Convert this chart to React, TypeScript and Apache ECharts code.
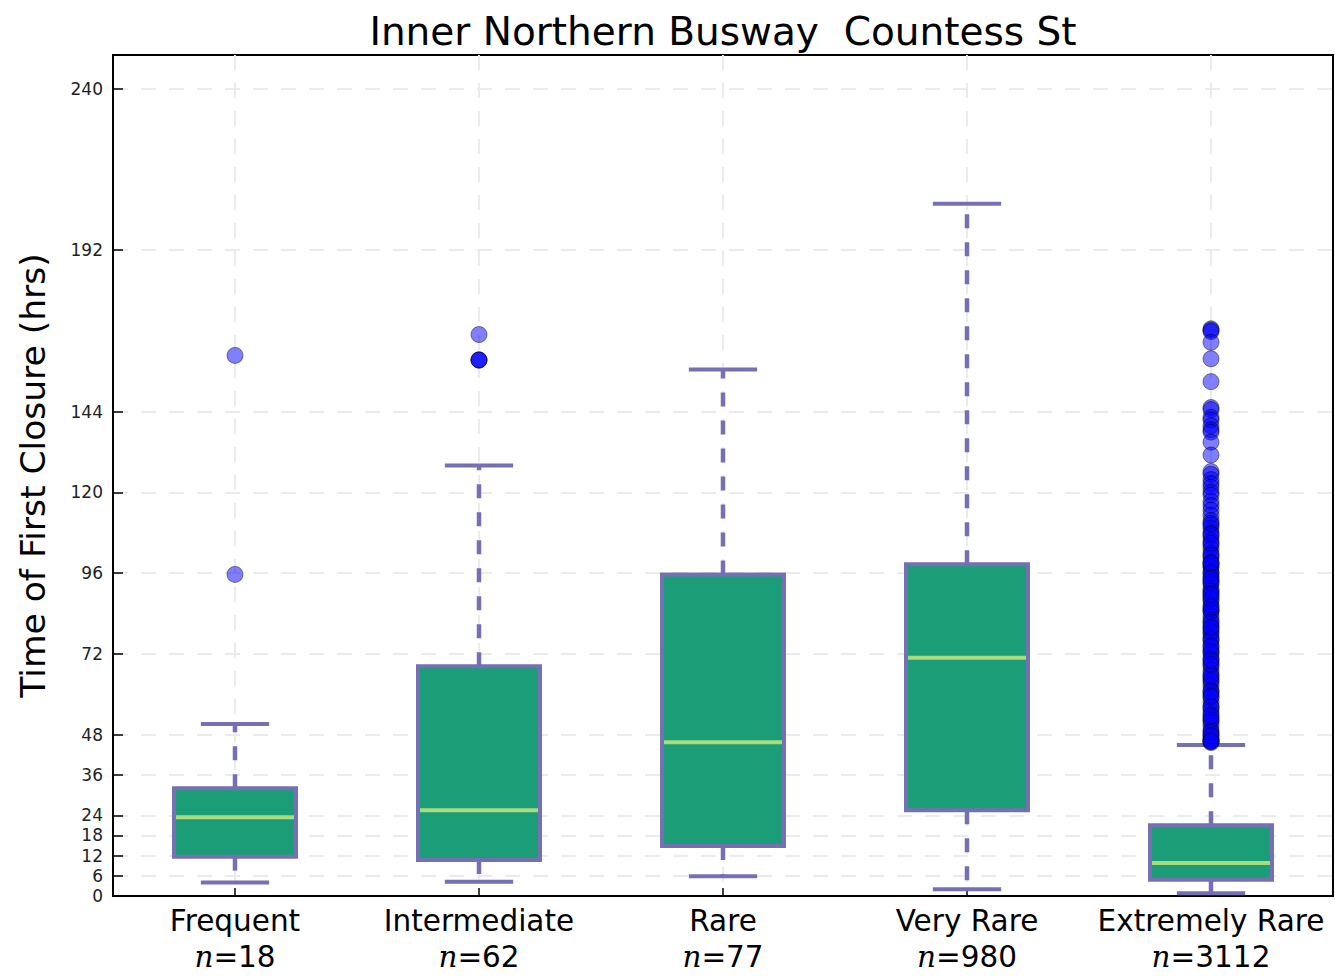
import React, { useEffect, useRef } from 'react';
import * as echarts from 'echarts';

const titleText = 'Inner Northern Busway  Countess St';
const yAxisTitle = 'Time of First Closure (hrs)';
const categories = ['Frequent', 'Intermediate', 'Rare', 'Very Rare', 'Extremely Rare'];
const counts = [18, 62, 77, 980, 3112];
const lowerWhisker = [4.0, 4.2, 5.9, 2.0, 0.8];
const q1 = [11.7, 10.7, 14.9, 25.5, 4.8];
const median = [23.4, 25.5, 45.7, 70.8, 9.8];
const q3 = [32.0, 68.3, 95.6, 98.6, 21.0];
const upperWhisker = [51.1, 128.0, 156.5, 205.8, 44.9];
const yTicks = [0, 6, 12, 18, 24, 36, 48, 72, 96, 120, 144, 192, 240];

const outliersFrequent = [95.6, 160.7];
const outliersIntermediate = [166.9, 159.3, 159.3, 159.4];
const outliersRare: number[] = [];
const outliersVeryRare: number[] = [];
const outliersExtremelyRare = [
  168.6, 168.2, 167.8, 164.6, 159.7, 152.9, 145.2, 144.6, 142.3, 141.5, 139.8, 138.6, 137.9,
  134.9, 131.1, 126.2, 125.4, 123.8, 122.6, 121.5, 120.1, 119.2, 117.3, 116.1, 114.7, 113.2,
  111.6, 110.3, 109.4, 108.1, 106.9, 105.6, 104.3, 103.2, 101.9, 100.7, 99.4, 98.2, 97.6, 96.3,
  95.1, 93.9, 92.8, 91.4, 90.2, 89.1, 87.8, 86.5, 85.3, 84.4, 83.1, 82.0, 80.7, 79.5, 78.1,
  77.0, 75.9, 74.6, 73.2, 72.1, 70.8, 69.7, 68.4, 67.2, 66.1, 64.9, 63.6, 62.5, 61.2, 60.1,
  58.9, 57.6, 56.4, 55.2, 54.1, 52.8, 51.7, 50.6, 49.3, 48.2, 47.1, 46.2, 45.6,
  110.8, 107.5, 104.9, 101.3, 98.7, 96.0, 93.2, 90.6, 88.3, 84.8, 81.4, 78.6, 76.3, 72.6,
  68.9, 64.2, 60.7, 56.1, 52.3, 48.7, 46.5, 45.9, 99.0, 94.4, 89.6, 85.9, 79.9, 74.1, 70.2,
  65.5, 59.4, 53.5, 47.6, 46.0,
];
const outliers = [outliersFrequent, outliersIntermediate, outliersRare, outliersVeryRare, outliersExtremelyRare];

const BOX_FILL = '#1b9e77';
const EDGE = '#7570b3';
const MEDIAN = '#a8dc7c';
const GRID = '#ebebeb';

export default function App() {
  const ref = useRef<HTMLDivElement>(null);
  useEffect(() => {
    const chart = echarts.init(ref.current!, null, { renderer: 'svg' });
    const boxData = categories.map((_, i) => [i, lowerWhisker[i], q1[i], median[i], q3[i], upperWhisker[i]]);
    const outlierData: number[][] = [];
    outliers.forEach((arr, i) => arr.forEach((v) => outlierData.push([i, v])));
    const catIdx = categories.map((_, i) => i);

    chart.setOption({
      animation: false,
      backgroundColor: '#ffffff',
      textStyle: { fontFamily: 'DejaVu Sans' },
      graphic: [
        {
          type: 'text',
          x: 723,
          y: 12,
          style: {
            text: titleText,
            fontFamily: 'DejaVu Sans',
            fontSize: 39,
            fill: '#000',
            align: 'center',
            verticalAlign: 'top',
          },
        },
      ],
      grid: {
        left: 113,
        right: 2,
        top: 55,
        bottom: 81,
        show: true,
        borderColor: '#000',
        borderWidth: 2,
        backgroundColor: 'transparent',
      },
      xAxis: {
        type: 'value',
        min: -0.5,
        max: 4.5,
        axisLine: { show: true, onZero: false, lineStyle: { color: '#000', width: 2 } },
        axisTick: { show: true, inside: true, length: 8, customValues: catIdx, lineStyle: { color: '#000', width: 1.5 } },
        axisLabel: {
          customValues: catIdx,
          margin: 7,
          formatter: (v: number) => `{c|${categories[Math.round(v)]}}\n{i|n}{c|=${counts[Math.round(v)]}}`,
          rich: {
            c: { fontFamily: 'DejaVu Sans', fontSize: 29.5, color: '#000', lineHeight: 36 },
            i: { fontFamily: 'DejaVu Serif', fontStyle: 'italic', fontSize: 29.5, color: '#000', lineHeight: 36 },
          },
        },
        splitLine: { show: true, lineStyle: { color: GRID, width: 2, type: [15, 13] } },
      },
      yAxis: {
        type: 'value',
        min: 0,
        max: 250,
        name: yAxisTitle,
        nameLocation: 'middle',
        nameGap: 63,
        nameTextStyle: { fontFamily: 'DejaVu Sans', fontSize: 34.5, color: '#000' },
        axisLine: { show: true, onZero: false, lineStyle: { color: '#000', width: 2 } },
        axisTick: { show: true, inside: true, length: 10, customValues: yTicks, lineStyle: { color: '#000', width: 1.5 } },
        axisLabel: { customValues: yTicks, fontSize: 17, color: '#222', margin: 10, fontFamily: 'DejaVu Sans' },
        splitLine: { show: true, lineStyle: { color: GRID, width: 2, type: [15, 13] } },
      },
      series: [
        {
          type: 'custom',
          encode: { x: 0, y: [1, 2, 3, 4, 5] },
          data: boxData,
          z: 2,
          renderItem: (params: any, api: any) => {
            const i = api.value(0);
            const x = api.coord([i, 0])[0];
            const band = api.size([1, 0])[0];
            const bw = band * 0.25;
            const cw = band * 0.14;
            const yLow = api.coord([i, api.value(1)])[1];
            const yQ1 = api.coord([i, api.value(2)])[1];
            const yMed = api.coord([i, api.value(3)])[1];
            const yQ3 = api.coord([i, api.value(4)])[1];
            const yHigh = api.coord([i, api.value(5)])[1];
            const dashed = { stroke: EDGE, lineWidth: 4.5, lineDash: [14, 14], fill: null };
            const solid = { stroke: EDGE, lineWidth: 4, fill: null };
            return {
              type: 'group',
              children: [
                { type: 'line', shape: { x1: x, y1: yQ1, x2: x, y2: yLow }, style: dashed },
                { type: 'line', shape: { x1: x, y1: yQ3, x2: x, y2: yHigh }, style: dashed },
                { type: 'line', shape: { x1: x - cw, y1: yLow, x2: x + cw, y2: yLow }, style: solid },
                { type: 'line', shape: { x1: x - cw, y1: yHigh, x2: x + cw, y2: yHigh }, style: solid },
                {
                  type: 'rect',
                  shape: { x: x - bw, y: yQ3, width: 2 * bw, height: yQ1 - yQ3 },
                  style: { fill: BOX_FILL, stroke: EDGE, lineWidth: 4 },
                },
                { type: 'line', shape: { x1: x - bw + 2, y1: yMed, x2: x + bw - 2, y2: yMed }, style: { stroke: MEDIAN, lineWidth: 4 } },
              ],
            };
          },
        },
        {
          type: 'scatter',
          data: outlierData,
          symbol: 'circle',
          symbolSize: 16,
          z: 3,
          itemStyle: { color: 'rgba(0,0,255,0.5)', borderColor: 'rgba(0,0,0,0.45)', borderWidth: 1, opacity: 1 },
        },
      ],
    });
    return () => chart.dispose();
  }, []);
  return <div ref={ref} style={{ position: 'fixed', left: 0, top: 0, width: 1335, height: 977, background: '#fff' }} />;
}
